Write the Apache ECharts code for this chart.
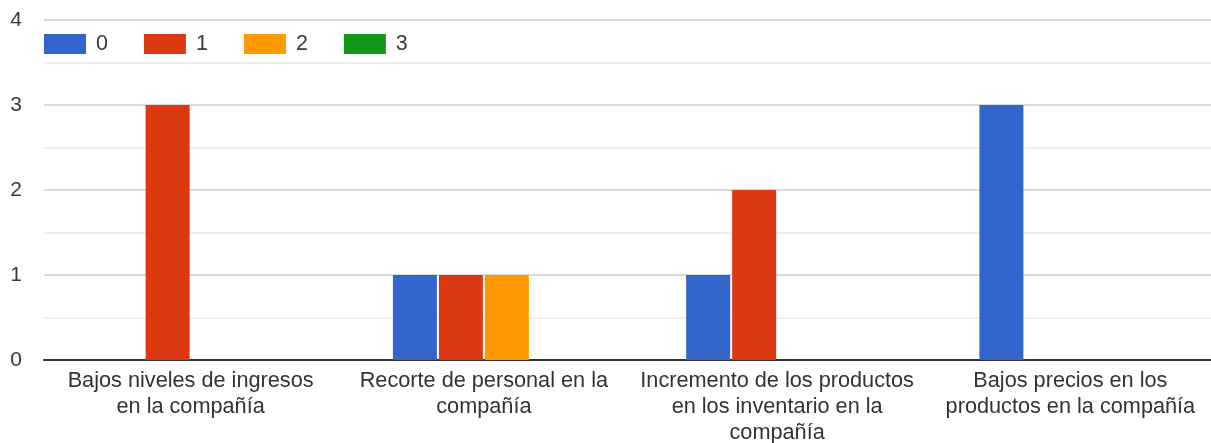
<!DOCTYPE html>
<html>
<head>
<meta charset="utf-8">
<script src="https://cdn.jsdelivr.net/npm/echarts@6/dist/echarts.min.js"></script>
<style>html,body{margin:0;padding:0;background:#fff}#c{width:1211px;height:443px}</style>
</head>
<body>
<div id="c"></div>
<script>
const categories = [
  "Bajos niveles de ingresos\nen la compañía",
  "Recorte de personal en la\ncompañía",
  "Incremento de los productos\nen los inventario en la\ncompañía",
  "Bajos precios en los\nproductos en la compañía"
];
const seriesNames = ["0", "1", "2", "3"];
const s0 = [0, 1, 1, 3];
const s1 = [3, 1, 2, 0];
const s2 = [0, 1, 0, 0];
const s3 = [0, 0, 0, 0];
const colors = ["#3366cc", "#dc3912", "#ff9900", "#109618"];

const chart = echarts.init(document.getElementById('c'));
const font = "Arial, 'Liberation Sans', sans-serif";
const allData = [s0, s1, s2, s3];
chart.setOption({
  animation: false,
  color: colors,
  textStyle: { fontFamily: font },
  legend: {
    left: 39, top: 28,
    itemWidth: 42, itemHeight: 20, itemGap: 36,
    icon: 'rect',
    textStyle: { fontSize: 21.5, color: '#3a3a3a', fontFamily: font, padding: [0, 0, 0, 5] },
    data: seriesNames
  },
  grid: { left: 44, width: 1173, top: 20, bottom: 83, containLabel: false, outerBoundsMode: 'none' },
  xAxis: {
    type: 'category',
    data: categories,
    axisTick: { show: false },
    axisLine: { show: true, lineStyle: { color: '#333', width: 2 } },
    axisLabel: { interval: 0, fontSize: 21.7, lineHeight: 26, color: '#333', margin: 8, fontFamily: font }
  },
  yAxis: {
    type: 'value',
    min: 0, max: 4, interval: 1,
    axisLine: { show: false },
    axisTick: { show: false },
    axisLabel: { fontSize: 21, color: '#3a3a3a', margin: 22, fontFamily: font },
    splitLine: { lineStyle: { color: '#cccccc', width: 1.5 } },
    minorTick: { show: false, splitNumber: 2 },
    minorSplitLine: { show: true, lineStyle: { color: '#ebebeb', width: 1.5 } }
  },
  series: seriesNames.map((n, i) => ({
    name: n,
    type: 'bar',
    data: allData[i],
    barWidth: 44,
    barGap: '4.5%'
  }))
});
</script>
</body>
</html>
